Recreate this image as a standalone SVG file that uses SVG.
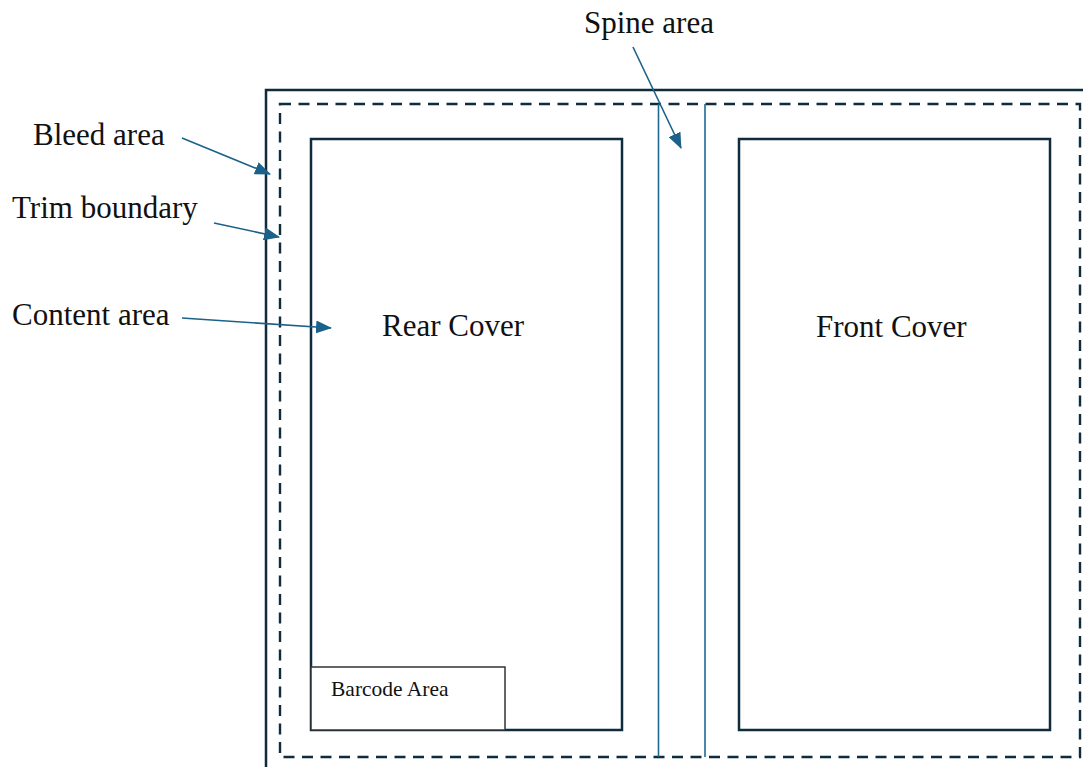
<svg xmlns="http://www.w3.org/2000/svg" width="1083" height="767" viewBox="0 0 1083 767">
<style>
.lbl{font-family:"Liberation Serif","Times New Roman",serif;font-size:31px;fill:#111}
.box{fill:none;stroke:#0f2b3e;stroke-width:2.5}
.spine{stroke:#1f6a93;stroke-width:1.6}
.arr{stroke:#1b6189;stroke-width:1.6;fill:none;marker-end:url(#ah)}
</style>
<defs>
<marker id="ah" viewBox="0 0 16 13" refX="15" refY="6.5" markerWidth="16" markerHeight="13" markerUnits="userSpaceOnUse" orient="auto">
<path d="M0,0 L16,6.5 L0,13 z" fill="#1b6189"/>
</marker>
</defs>
<rect width="1083" height="767" fill="#fff"/>
<g id="trim-outer"><path class="box" d="M266,770 L266,90 L1090,90"/></g>
<g id="bleed-dashed"><rect x="280" y="104" width="800" height="653" fill="none" stroke="#0f2b3e" stroke-width="2.4" stroke-dasharray="11 7.5"/></g>
<g id="rear-cover"><rect class="box" x="311" y="139" width="311" height="591"/><text class="lbl" x="382" y="336">Rear Cover</text></g>
<g id="barcode"><rect x="311" y="667" width="194" height="63" fill="#fff" stroke="#333" stroke-width="1.5"/><text x="331" y="696" font-family="Liberation Serif, Times New Roman, serif" font-size="21.5" fill="#111">Barcode Area</text></g>
<g id="front-cover"><rect class="box" x="739" y="139" width="311" height="591"/><text class="lbl" x="816" y="337">Front Cover</text></g>
<g id="spine"><line class="spine" x1="658.5" y1="104" x2="658.5" y2="757"/><line class="spine" x1="705" y1="104" x2="705" y2="757" stroke="#4a88ab"/></g>
<g id="labels">
<text class="lbl" x="584" y="33">Spine area</text>
<text class="lbl" x="33" y="145">Bleed area</text>
<text class="lbl" x="12" y="218">Trim boundary</text>
<text class="lbl" x="12" y="325">Content area</text>
</g>
<g id="connectors">
<line class="arr" x1="633" y1="47" x2="681" y2="148"/>
<line class="arr" x1="182" y1="138" x2="270" y2="174"/>
<line class="arr" x1="214" y1="223" x2="279" y2="237"/>
<line class="arr" x1="182" y1="318" x2="331" y2="328"/>
</g>
</svg>
